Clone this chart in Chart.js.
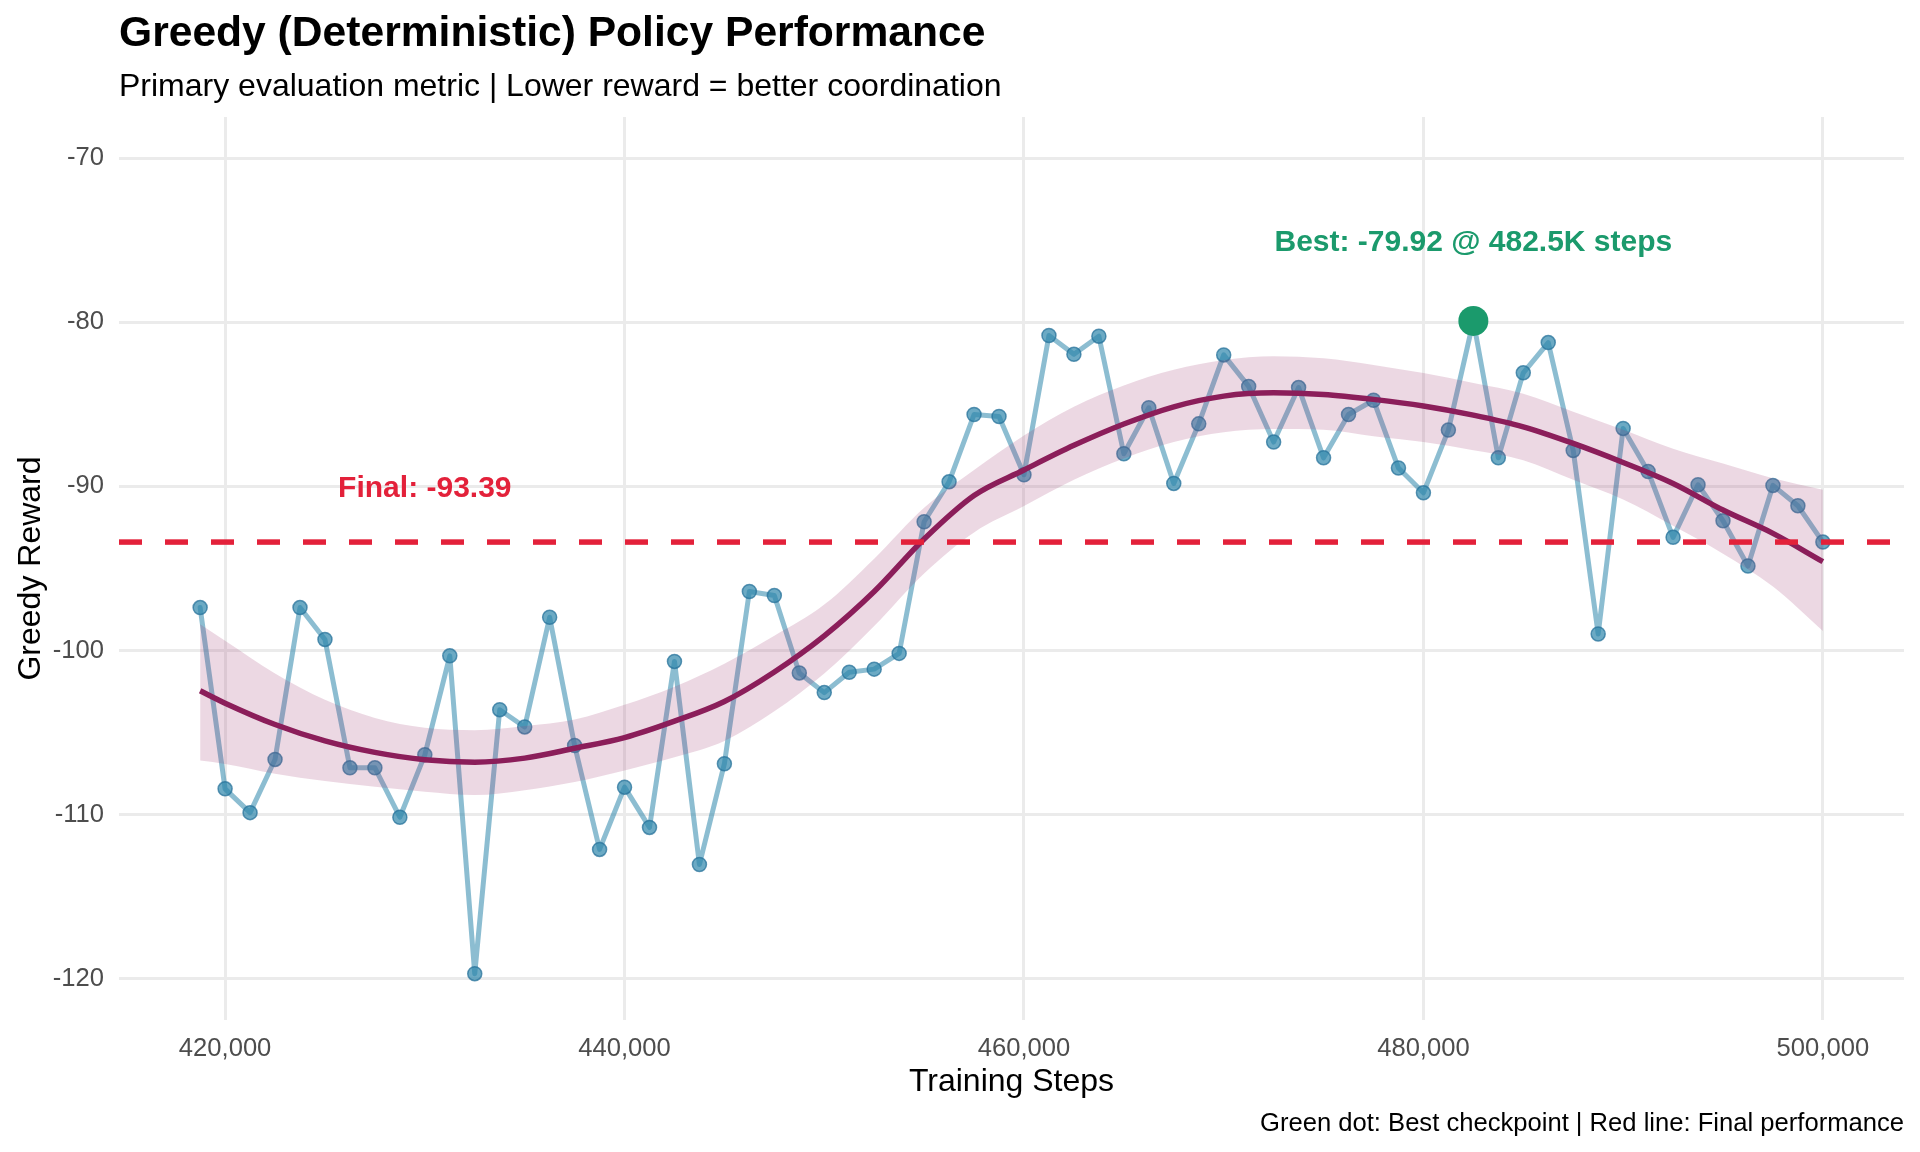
<!DOCTYPE html>
<html>
<head>
<meta charset="utf-8">
<script src="https://cdn.jsdelivr.net/npm/chart.js"></script>
<style>
  html, body { margin: 0; padding: 0; background: #ffffff; }
  #wrap { width: 1920px; height: 1152px; }
</style>
</head>
<body>
<div id="wrap"><canvas id="vis" width="1920" height="1152"></canvas></div>
<script>
// evaluation checkpoints (training steps) and greedy rewards
const steps = [
  418750, 420000, 421250, 422500, 423750, 425000, 426250, 427500, 428750, 430000,
  431250, 432500, 433750, 435000, 436250, 437500, 438750, 440000, 441250, 442500,
  443750, 445000, 446250, 447500, 448750, 450000, 451250, 452500, 453750, 455000,
  456250, 457500, 458750, 460000, 461250, 462500, 463750, 465000, 466250, 467500,
  468750, 470000, 471250, 472500, 473750, 475000, 476250, 477500, 478750, 480000,
  481250, 482500, 483750, 485000, 486250, 487500, 488750, 490000, 491250, 492500,
  493750, 495000, 496250, 497500, 498750, 500000
];
const rewards = [
  -97.38, -108.42, -109.87, -106.63, -97.38, -99.32, -107.14, -107.14, -110.15, -106.35,
  -100.32, -119.68, -103.60, -104.65, -97.97, -105.78, -112.11, -108.32, -110.77, -100.66,
  -113.03, -106.89, -96.40, -96.65, -101.36, -102.56, -101.32, -101.13, -100.17, -92.15,
  -89.72, -85.62, -85.74, -89.29, -80.81, -81.95, -80.85, -88.01, -85.21, -89.82,
  -86.19, -81.99, -83.91, -87.30, -83.98, -88.26, -85.62, -84.75, -88.88, -90.39,
  -86.57, -79.92, -88.26, -83.08, -81.24, -87.81, -98.99, -86.47, -89.09, -93.10,
  -89.90, -92.09, -94.85, -89.94, -91.18, -93.39
];

// loess trend with its confidence band
const smoothSteps = [
  418750, 420000, 422500, 425000, 427500, 430000, 432500, 435000, 437500, 440000,
  442500, 445000, 447500, 450000, 452500, 455000, 457500, 460000, 462500, 465000,
  467500, 470000, 472500, 475000, 477500, 480000, 482500, 485000, 487500, 490000,
  492500, 495000, 497500, 500000
];
const smoothFit = [
  -102.45, -103.2, -104.5, -105.5, -106.2, -106.65, -106.8, -106.55, -105.95, -105.3,
  -104.3, -103.1, -101.3, -99.1, -96.4, -93.2, -90.55, -89.0, -87.5, -86.2,
  -85.15, -84.5, -84.3, -84.4, -84.7, -85.1, -85.66, -86.37, -87.38, -88.54,
  -89.82, -91.44, -92.86, -94.58
];
const smoothUpper = [
  -98.4, -99.4, -101.4, -103.0, -104.1, -104.7, -104.85, -104.6, -104.2, -103.3,
  -102.2, -100.8, -99.1, -97.2, -94.4, -91.3, -89.0, -86.9, -85.15, -83.85,
  -82.9, -82.3, -82.07, -82.2, -82.6, -83.1, -83.7, -84.35, -85.45, -86.55,
  -87.7, -88.6, -89.5, -90.2
];
const smoothLower = [
  -106.7, -106.9, -107.5, -107.95, -108.3, -108.6, -108.8, -108.5, -108.0, -107.3,
  -106.5, -105.5, -103.7, -101.4, -98.5, -95.3, -92.8, -91.2, -89.6, -88.3,
  -87.3, -86.7, -86.5, -86.55, -86.95, -87.3, -87.8, -88.4, -89.6, -90.8,
  -92.4, -94.1, -96.1, -98.8
];

const bestStep = 482500;
const bestReward = -79.92;
const finalReward = -93.39;

const xTicks = [420000, 440000, 460000, 480000, 500000];
const yTicks = [-120, -110, -100, -90, -80, -70];
const xMin = 414687.5, xMax = 504062.5;
const yMin = -122.5, yMax = -67.5;

const FONT = '"Liberation Sans", Arial, Helvetica, sans-serif';
const RED = '#E3213A';
const GREEN = '#1B9A6C';

const pts = (xs, ys) => xs.map((x, i) => ({x: x, y: ys[i]}));

const textPlugin = {
  id: 'texts',
  afterDraw(chart) {
    const c = chart.ctx;
    const xs = chart.scales.x, ys = chart.scales.y;
    const area = chart.chartArea;
    c.save();
    c.textBaseline = 'alphabetic';

    c.fillStyle = '#000000';
    c.textAlign = 'left';
    c.font = 'bold 42.6px ' + FONT;
    c.fillText('Greedy (Deterministic) Policy Performance', 119, 46);
    c.font = '32px ' + FONT;
    c.fillText('Primary evaluation metric | Lower reward = better coordination', 119, 96);

    c.textAlign = 'center';
    c.fillText('Training Steps', (area.left + area.right) / 2, 1091);

    c.save();
    c.translate(40, (area.top + area.bottom) / 2);
    c.rotate(-Math.PI / 2);
    c.fillText('Greedy Reward', 0, 0);
    c.restore();

    c.textAlign = 'right';
    c.font = '25.6px ' + FONT;
    c.fillText('Green dot: Best checkpoint | Red line: Final performance', 1904, 1131);

    c.textAlign = 'center';
    c.font = 'bold 30px ' + FONT;
    c.fillStyle = GREEN;
    c.fillText('Best: ' + bestReward.toFixed(2) + ' @ ' + (bestStep / 1000).toFixed(1) + 'K steps',
      xs.getPixelForValue(bestStep), ys.getPixelForValue(bestReward + 4.92) + 10.7);
    c.fillStyle = RED;
    c.fillText('Final: ' + finalReward.toFixed(2),
      xs.getPixelForValue(430000), ys.getPixelForValue(finalReward + 3.39) + 10.7);
    c.restore();
  }
};

const ctx = document.getElementById('vis').getContext('2d');
const myChart = new Chart(ctx, {
  type: 'line',
  data: {
    datasets: [
      {
        // raw evaluations
        data: pts(steps, rewards),
        borderColor: 'rgba(46,134,171,0.55)',
        borderWidth: 5,
        borderJoinStyle: 'round',
        borderCapStyle: 'round',
        pointRadius: 7,
        pointBackgroundColor: 'rgba(46,134,171,0.7)',
        pointBorderColor: 'rgba(40,115,155,0.75)',
        pointBorderWidth: 1.5,
        tension: 0,
        fill: false,
        order: 4
      },
      {
        data: pts(smoothSteps, smoothUpper),
        borderWidth: 0,
        borderColor: 'rgba(0,0,0,0)',
        backgroundColor: 'rgba(162,59,114,0.2)',
        pointRadius: 0,
        cubicInterpolationMode: 'monotone',
        fill: '+1',
        order: 3
      },
      {
        data: pts(smoothSteps, smoothLower),
        borderWidth: 0,
        borderColor: 'rgba(0,0,0,0)',
        pointRadius: 0,
        cubicInterpolationMode: 'monotone',
        fill: false,
        order: 3
      },
      {
        data: pts(smoothSteps, smoothFit),
        borderColor: '#8B1E5A',
        borderWidth: 5.5,
        borderJoinStyle: 'round',
        pointRadius: 0,
        cubicInterpolationMode: 'monotone',
        fill: false,
        order: 2
      },
      {
        data: [{x: xMin, y: finalReward}, {x: xMax, y: finalReward}],
        borderColor: RED,
        borderWidth: 5.5,
        borderDash: [23, 23],
        pointRadius: 0,
        fill: false,
        order: 1
      },
      {
        data: [{x: bestStep, y: bestReward}],
        showLine: false,
        pointRadius: 15,
        pointBackgroundColor: GREEN,
        pointBorderColor: GREEN,
        pointBorderWidth: 0,
        order: 0
      }
    ]
  },
  options: {
    responsive: false,
    animation: false,
    devicePixelRatio: 1,
    layout: { padding: { top: 117, right: 16, left: 0, bottom: 0 } },
    plugins: {
      legend: { display: false },
      tooltip: { enabled: false },
      title: { display: false }
    },
    scales: {
      x: {
        type: 'linear',
        min: xMin,
        max: xMax,
        afterFit: s => { s.height = 132; },
        afterBuildTicks: s => { s.ticks = xTicks.map(v => ({value: v})); },
        grid: { color: '#EBEBEB', lineWidth: 3, drawTicks: false },
        border: { display: false },
        ticks: {
          padding: 14,
          color: '#4D4D4D',
          font: { family: FONT, size: 25.6 },
          maxRotation: 0,
          callback: v => v.toLocaleString('en-US')
        }
      },
      y: {
        type: 'linear',
        min: yMin,
        max: yMax,
        afterFit: s => { s.width = 119; },
        afterBuildTicks: s => { s.ticks = yTicks.map(v => ({value: v})); },
        grid: { color: '#EBEBEB', lineWidth: 3, drawTicks: false },
        border: { display: false },
        ticks: {
          padding: 15,
          color: '#4D4D4D',
          font: { family: FONT, size: 25.6 },
          callback: v => String(v)
        }
      }
    }
  },
  plugins: [textPlugin]
});
</script>
</body>
</html>
